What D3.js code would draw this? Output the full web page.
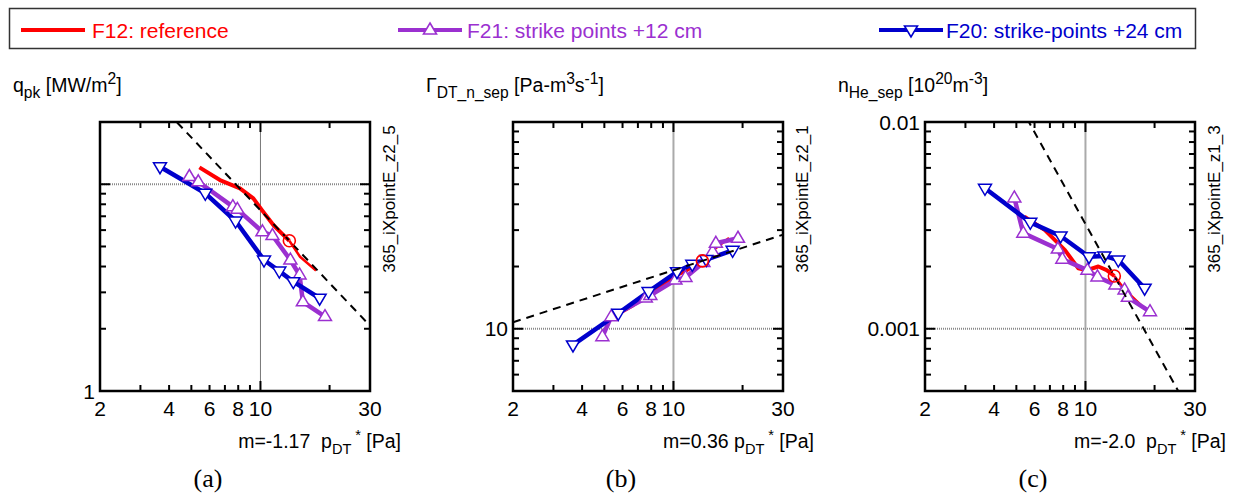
<!DOCTYPE html>
<html><head><meta charset="utf-8">
<script src="https://cdn.jsdelivr.net/npm/d3@7"></script>
<style>
body{margin:0;background:#fff}
svg{display:block}
text{font-family:"Liberation Sans",Arial,sans-serif;fill:#000}
</style>
</head><body>
<svg id="chart" width="1237" height="498"></svg>
<script>
// ---------------- data ----------------
const seriesNames = ["F12: reference", "F21: strike points +12 cm", "F20: strike-points +24 cm"];
const pdtF12 = [5.42, 6.66, 8.14, 9.31, 10.15, 11.38, 12.37, 13.36, 14.87, 17.46];
const pdtF21 = [4.90, 5.36, 7.58, 7.93, 10.2, 11.28, 13.5, 14.8, 15.3, 19.1];
const pdtF20 = [3.65, 5.75, 7.79, 10.36, 12.08, 13.9, 18.1];
const refIndex = 7; // reference point of F12 (circle)

const qpkF12 = [12.07, 10.48, 9.55, 8.55, 7.50, 6.35, 5.79, 5.33, 4.46, 3.82];
const qpkF21 = [10.9, 10.28, 7.79, 7.56, 5.89, 5.65, 4.30, 3.64, 2.70, 2.29];
const qpkF20 = [12.15, 9.04, 6.64, 4.30, 3.80, 3.38, 2.81];

const gammaF12 = [11.4, 13.0, 15.05, 16.6, 18.0, 19.2, 20.3, 21.3, 24.0, 27.5];
const gammaF21 = [9.15, 11.44, 14.1, 14.5, 17.2, 17.7, 20.9, 23.6, 25.9, 27.4];
const gammaF20 = [8.35, 11.88, 15.14, 18.87, 20.5, 21.6, 23.95];

const nheF12 = [0.00348, 0.00300, 0.00240, 0.00196, 0.00192, 0.00200, 0.00192, 0.00180, 0.00154, 0.00130];
const nheF21 = [0.00429, 0.00290, 0.00243, 0.00217, 0.00192, 0.00178, 0.00163, 0.00154, 0.00142, 0.00121];
const nheF20 = [0.00478, 0.00327, 0.00281, 0.00223, 0.00225, 0.00215, 0.00157];

const slopes = [-1.17, 0.36, -2.0];
const slopeLabels = ["m=-1.17  p", "m=0.36 p", "m=-2.0  p"];
const xDomain = [2, 30];
const xTickLabels = [2, 4, 6, 8, 10, 30];
const yDomains = [[1, 20], [5, 100], [0.0005, 0.01]];
const yTickLabels = [[1], [10], [0.01, 0.001]];
const yGridValues = [10, 10, 0.001];
const xGridValue = 10;
const caseLabels = ["365_iXpointE_z2_5", "365_iXpointE_z2_1", "365_iXpointE_z1_3"];
const panelLetters = ["(a)", "(b)", "(c)"];
const yTitles = [
  [["q","n"],["pk","sub"],[" [MW/m","n"],["2","sup"],["]","n"]],
  [["\u0393","n"],["DT_n_sep","sub"],[" [Pa-m","n"],["3","sup"],["s","n"],["-1","sup"],["]","n"]],
  [["n","n"],["He_sep","sub"],[" [10","n"],["20","sup"],["m","n"],["-3","sup"],["]","n"]]
];
const panelData = [
  [qpkF12, qpkF21, qpkF20],
  [gammaF12, gammaF21, gammaF20],
  [nheF12, nheF21, nheF20]
];

// ---------------- style ----------------
const colors = ["#ff0000", "#9b30d0", "#0000cc"];
const lefts = [100, 513, 925];
const W = 270, H = 269, TOP = 122;

const svg = d3.select("#chart");

function rich(g, x, y, parts, size, anchor, scale) {
  const t = g.append("text").attr("x", x).attr("y", y)
    .attr("font-size", size).attr("text-anchor", anchor || "start")
    .style("white-space", "pre");
  let cur = 0;
  parts.forEach(([s, m]) => {
    const off = m === "sub" ? size * 0.32 : (m === "sup" ? -size * 0.42 : 0);
    const ts = t.append("tspan").text(s).attr("dy", off - cur);
    if (m !== "n") ts.attr("font-size", size * scale);
    cur = off;
  });
  return t;
}

const upTri = "M0,-7L6.5,4L-6.5,4Z";
const downTri = "M-6.5,-4L6.5,-4L0,7Z";

// ---------------- legend ----------------
svg.append("rect").attr("x", 9.5).attr("y", 8.5).attr("width", 1186).attr("height", 40)
  .attr("fill", "none").attr("stroke", "#333").attr("stroke-width", 1.5);
const legLineX = [21, 398, 879];
const legTextX = [92, 467, 946];
seriesNames.forEach((name, i) => {
  svg.append("line").attr("x1", legLineX[i]).attr("x2", legLineX[i] + 64)
    .attr("y1", 30).attr("y2", 30).attr("stroke", colors[i]).attr("stroke-width", 4);
  if (i > 0) {
    svg.append("path").attr("d", i === 1 ? upTri : downTri)
      .attr("transform", `translate(${legLineX[i] + 32},30)`)
      .attr("fill", "#fff").attr("stroke", colors[i]).attr("stroke-width", 1.6);
  }
  svg.append("text").attr("x", legTextX[i]).attr("y", 37.5).attr("font-size", 21)
    .style("fill", colors[i]).text(name);
});

// ---------------- panels ----------------
panelData.forEach((vals, p) => {
  const x0 = lefts[p];
  const g = svg.append("g");
  const x = d3.scaleLog().domain(xDomain).range([x0, x0 + W]);
  const y = d3.scaleLog().domain(yDomains[p]).range([TOP + H, TOP]);

  const clipId = "clip" + p;
  svg.append("clipPath").attr("id", clipId).append("rect")
    .attr("x", x0).attr("y", TOP).attr("width", W).attr("height", H);

  // grid
  g.append("line").attr("x1", x(xGridValue)).attr("x2", x(xGridValue))
    .attr("y1", TOP).attr("y2", TOP + H)
    .attr("stroke", p === 0 ? "#777" : "#aaa").attr("stroke-width", p === 0 ? 1 : 2);
  g.append("line").attr("x1", x0).attr("x2", x0 + W)
    .attr("y1", y(yGridValues[p])).attr("y2", y(yGridValues[p]))
    .attr("stroke", "#8a8a8a").attr("stroke-width", 2).attr("stroke-dasharray", "1,1");

  const data = g.append("g").attr("clip-path", `url(#${clipId})`);
  const line = d3.line().x(d => x(d[0])).y(d => y(d[1]));

  // F12 red line: thick up to reference point, thinner after
  const red = pdtF12.map((v, i) => [v, vals[0][i]]);
  data.append("path").attr("d", line(red.slice(0, refIndex + 1)))
    .attr("fill", "none").attr("stroke", colors[0]).attr("stroke-width", 4).attr("stroke-linejoin", "round");
  data.append("path").attr("d", line(red.slice(refIndex)))
    .attr("fill", "none").attr("stroke", colors[0]).attr("stroke-width", 2.5).attr("stroke-linejoin", "round");

  // F21 purple
  const pur = pdtF21.map((v, i) => [v, vals[1][i]]);
  data.append("path").attr("d", line(pur)).attr("fill", "none")
    .attr("stroke", colors[1]).attr("stroke-width", 4.5).attr("stroke-linejoin", "round");
  // F20 blue
  const blu = pdtF20.map((v, i) => [v, vals[2][i]]);
  data.append("path").attr("d", line(blu)).attr("fill", "none")
    .attr("stroke", colors[2]).attr("stroke-width", 4.5).attr("stroke-linejoin", "round");

  pur.forEach(d => data.append("path").attr("d", upTri)
    .attr("transform", `translate(${x(d[0])},${y(d[1])})`)
    .attr("fill", "#fff").attr("stroke", colors[1]).attr("stroke-width", 1.5));
  blu.forEach(d => data.append("path").attr("d", downTri)
    .attr("transform", `translate(${x(d[0])},${y(d[1])})`)
    .attr("fill", "#fff").attr("stroke", colors[2]).attr("stroke-width", 1.5));

  // dashed power-law fit through reference point
  const xr = pdtF12[refIndex], yr = vals[0][refIndex], m = slopes[p];
  const fit = xDomain.map(v => [v, yr * Math.pow(v / xr, m)]);
  data.append("path").attr("d", line(fit)).attr("fill", "none")
    .attr("stroke", "#000").attr("stroke-width", 2).attr("stroke-dasharray", "8,6");

  // reference circle
  data.append("circle").attr("cx", x(xr)).attr("cy", y(yr)).attr("r", 6)
    .attr("fill", "none").attr("stroke", colors[0]).attr("stroke-width", 1.6);

  // frame
  g.append("rect").attr("x", x0).attr("y", TOP).attr("width", W).attr("height", H)
    .attr("fill", "none").attr("stroke", "#000").attr("stroke-width", 2.5);

  const isMajor = v => Math.abs(Math.log10(v) - Math.round(Math.log10(v))) < 1e-9;
  // x ticks (inward, top and bottom)
  x.ticks().filter(v => v > xDomain[0] && v < xDomain[1]).forEach(v => {
    const L = isMajor(v) ? 10 : 6;
    g.append("line").attr("x1", x(v)).attr("x2", x(v)).attr("y1", TOP + H).attr("y2", TOP + H - L)
      .attr("stroke", "#000").attr("stroke-width", 2);
    g.append("line").attr("x1", x(v)).attr("x2", x(v)).attr("y1", TOP).attr("y2", TOP + L)
      .attr("stroke", "#000").attr("stroke-width", 2);
  });
  // y ticks (inward, left and right)
  const yd = yDomains[p];
  y.ticks().filter(v => v > yd[0] * 1.0001 && v < yd[1] * 0.9999).forEach(v => {
    const L = isMajor(v) ? 10 : 6;
    g.append("line").attr("x1", x0).attr("x2", x0 + L).attr("y1", y(v)).attr("y2", y(v))
      .attr("stroke", "#000").attr("stroke-width", 2);
    g.append("line").attr("x1", x0 + W).attr("x2", x0 + W - L).attr("y1", y(v)).attr("y2", y(v))
      .attr("stroke", "#000").attr("stroke-width", 2);
  });

  // tick labels
  xTickLabels.forEach(v => {
    g.append("text").attr("x", x(v)).attr("y", TOP + H + 25).attr("font-size", 21)
      .attr("text-anchor", "middle").text(v);
  });
  yTickLabels[p].forEach(v => {
    g.append("text").attr("x", x0 - 5).attr("y", y(v) + 7.5).attr("font-size", 21)
      .attr("text-anchor", "end").text(v);
  });

  // titles
  rich(g, x0 - 87, 92, yTitles[p], 19.5, "start", 0.8);
  rich(g, x0 + W + 31, 448, [[slopeLabels[p], "n"], ["DT", "sub"], [" *", "sup"], [" [Pa]", "n"]], 19.5, "end", 0.75);
  g.append("text").attr("transform", `translate(${x0 + W + 25},${TOP + 77}) rotate(-90)`)
    .attr("font-size", 17).attr("text-anchor", "middle").text(caseLabels[p]);
  g.append("text").attr("x", x0 + 108).attr("y", 487).attr("font-size", 26)
    .attr("text-anchor", "middle").style("font-family", "'Liberation Serif','Times New Roman',serif")
    .text(panelLetters[p]);
});
</script>
</body></html>
